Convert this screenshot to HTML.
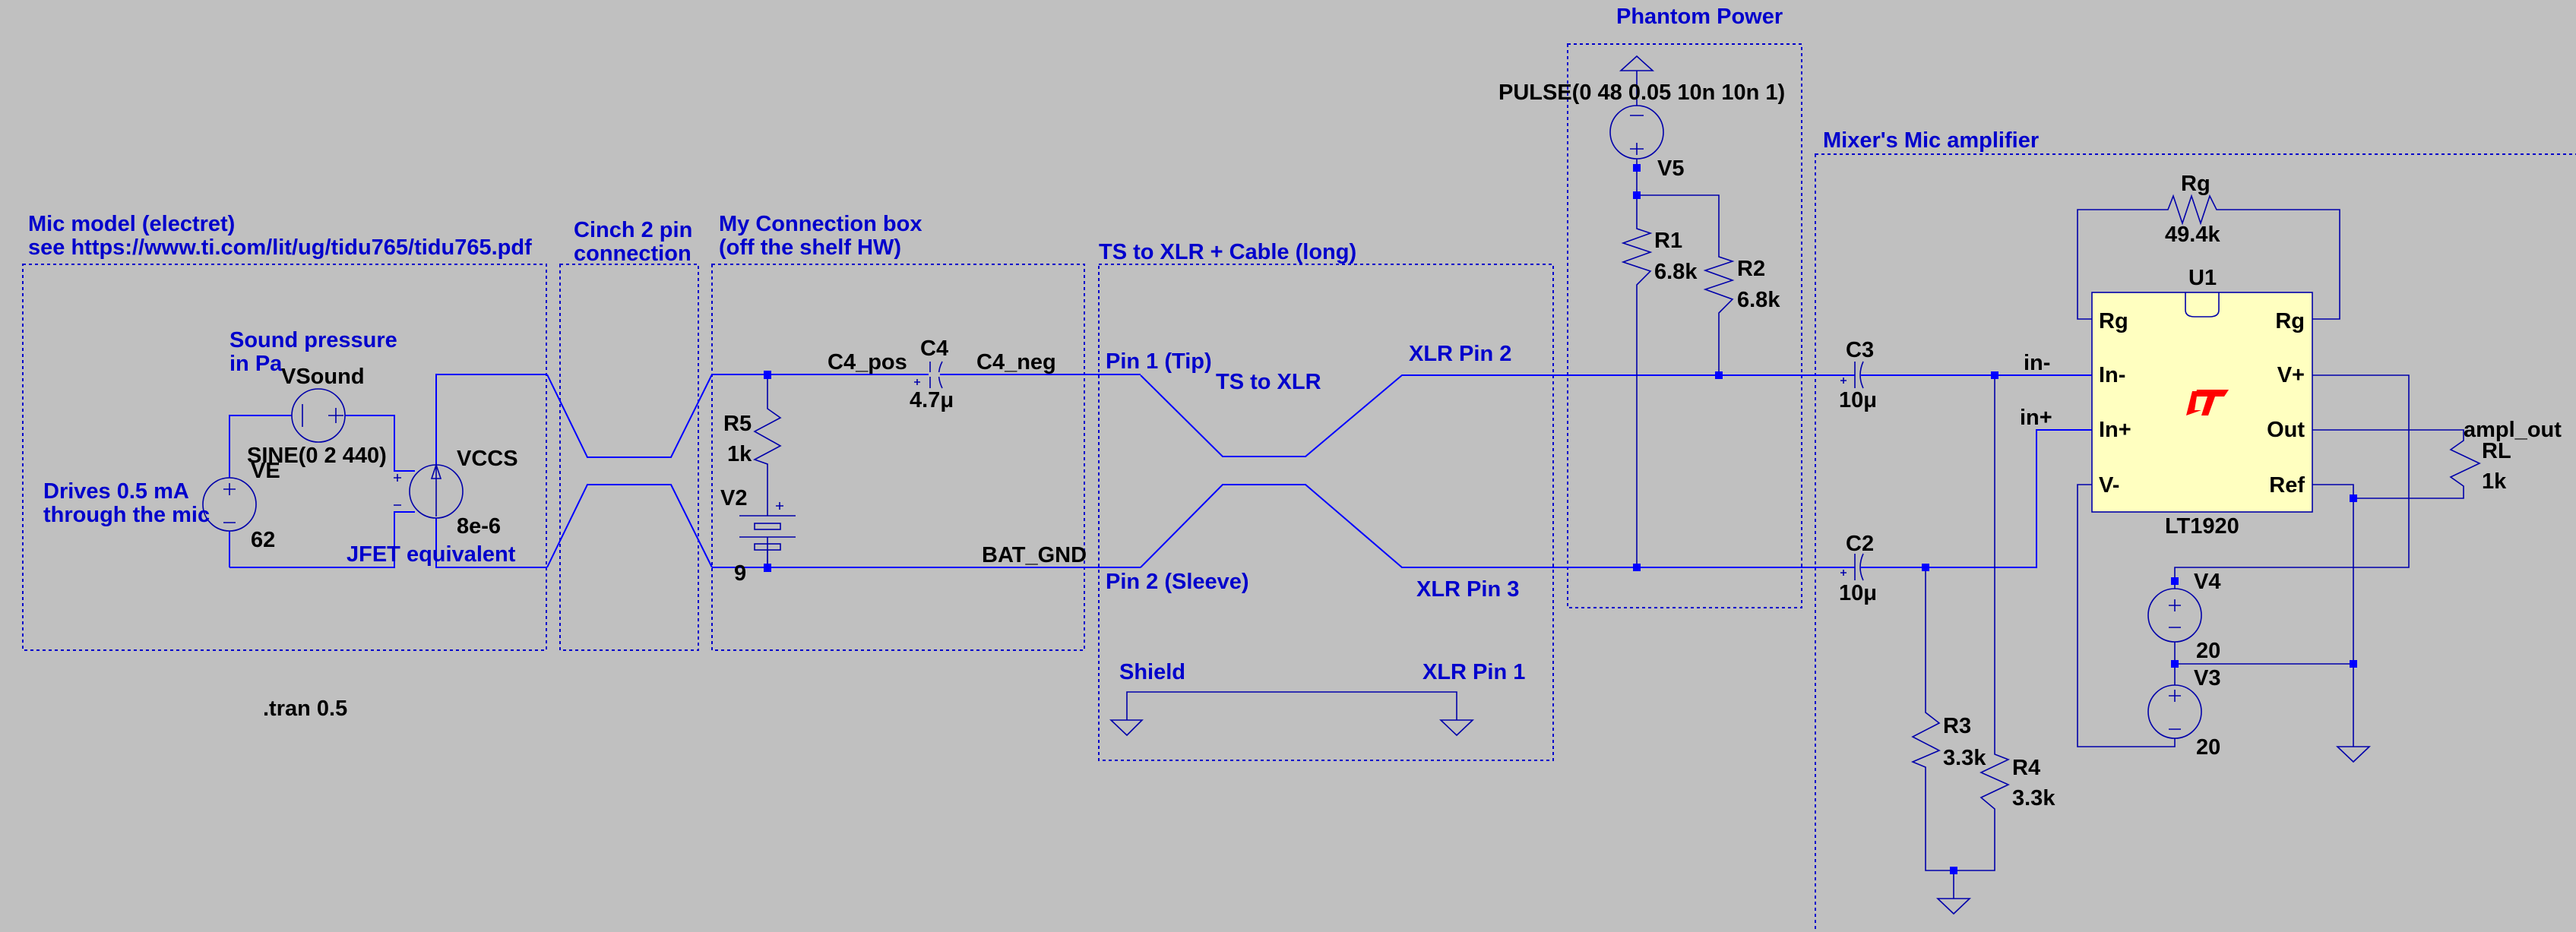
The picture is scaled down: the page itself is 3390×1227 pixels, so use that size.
<!DOCTYPE html>
<html><head><meta charset="utf-8"><style>
html,body{margin:0;padding:0;background:#c0c0c0;}
svg{display:block;}
text{font-family:"Liberation Sans",sans-serif;font-weight:bold;font-size:29px;}
.b{fill:#0000cc;}
.k{fill:#000;}
.w{stroke:#0000ff;stroke-width:2;fill:none;}
.t{stroke:#0000aa;stroke-width:1.6;fill:none;}
.d{stroke:#0000cc;stroke-width:2;fill:none;stroke-dasharray:4 4;}
.j{fill:#0000ff;}
.src{stroke:#0000aa;stroke-width:1.6;fill:#c0c0c0;}
</style></head><body>
<svg width="3390" height="1227" viewBox="0 0 3390 1227" xmlns="http://www.w3.org/2000/svg">
<rect width="3390" height="1227" fill="#c0c0c0"/>
<rect class="d" x="30" y="348" width="689" height="508"/>
<rect class="d" x="737" y="348" width="182" height="508"/>
<rect class="d" x="937" y="348" width="490" height="508"/>
<rect class="d" x="1446" y="348" width="598" height="653"/>
<rect class="d" x="2063" y="58" width="308" height="742"/>
<rect class="d" x="2389" y="203" width="1010" height="1040"/>
<text class="b" x="37" y="304">Mic model (electret)</text>
<text class="b" x="37" y="335">see https://www.ti.com/lit/ug/tidu765/tidu765.pdf</text>
<text class="b" x="755" y="312">Cinch 2 pin</text>
<text class="b" x="755" y="343">connection</text>
<text class="b" x="946" y="304">My Connection box</text>
<text class="b" x="946" y="335">(off the shelf HW)</text>
<text class="b" x="1446" y="341">TS to XLR + Cable (long)</text>
<text class="b" x="2127" y="31">Phantom Power</text>
<text class="b" x="2399" y="194">Mixer's Mic amplifier</text>
<text class="k" x="346" y="942">.tran 0.5</text>

<path class="w" d="M302 747 V547 H519 V620 H546 M546 674 H519 V747 H302"/>
<path class="w" d="M574 612 V493 H720 M574 682 V747 H720"/>
<circle class="src" cx="419" cy="547" r="35"/>
<path class="t" d="M398 532 V562 M432 547 H452 M442 537 V557"/>
<circle class="src" cx="302" cy="664" r="35"/>
<path class="t" d="M294 644 H310 M302 636 V652 M294 688 H310"/>
<circle class="src" cx="574" cy="647" r="35"/>
<path class="t" d="M574 680 V614 M568 630 L574 612 L580 630 Z M518 629 H528 M523 624 V634 M518 665 H528"/>
<text class="b" x="302" y="457">Sound pressure</text>
<text class="b" x="302" y="488">in Pa</text>
<text class="k" x="370" y="505">VSound</text>
<text class="k" x="325" y="609">SINE(0 2 440)</text>
<text class="k" x="330" y="629">VE</text>
<text class="k" x="330" y="720">62</text>
<text class="b" x="57" y="656">Drives 0.5 mA</text>
<text class="b" x="57" y="687">through the mic</text>
<text class="k" x="601" y="613">VCCS</text>
<text class="k" x="601" y="702">8e-6</text>
<text class="b" x="456" y="739">JFET equivalent</text>

<path class="w" d="M720 493 L773 602 H883 L937 493 M720 747 L773 638 H883 L937 747"/>

<path class="w" d="M937 493 H1222 M1237 493 H1501 M937 747 H1501"/>
<path class="t" d="M1010 493 V538 L1027 550 L993 568 L1027 587 L993 605 L1010 611 V679 M973 679 H1047 M973 707 H1047 M1010 707 V747"/>
<rect x="993" y="689" width="34" height="8" fill="none" stroke="#0000aa" stroke-width="1.6"/>
<rect x="993" y="716" width="34" height="8" fill="none" stroke="#0000aa" stroke-width="1.6"/>
<path class="t" d="M1010 724 V747 M1021 666 H1031 M1026 661 V671"/>
<rect class="j" x="1005" y="488" width="10" height="11"/>
<rect class="j" x="1005" y="742" width="10" height="11"/>
<path class="t" d="M1224 476 V511 M1240 476 Q1231 493 1240 511 M1203 503 H1211 M1207 499 V507"/>
<rect x="1222" y="490" width="15" height="6" fill="#c0c0c0"/>
<text class="k" x="952" y="567">R5</text>
<text class="k" x="957" y="607">1k</text>
<text class="k" x="948" y="665">V2</text>
<text class="k" x="966" y="764">9</text>
<text class="k" x="1089" y="486">C4_pos</text>
<text class="k" x="1211" y="468">C4</text>
<text class="k" x="1285" y="486">C4_neg</text>
<text class="k" x="1197" y="536">4.7μ</text>
<text class="k" x="1292" y="740">BAT_GND</text>

<path class="w" d="M1501 494 L1609 601 H1718 L1845 494 H2441 M1501 747 L1609 638 H1718 L1845 747 H2441"/>
<text class="b" x="1455" y="485">Pin 1 (Tip)</text>
<text class="b" x="1600" y="512">TS to XLR</text>
<text class="b" x="1854" y="475">XLR Pin 2</text>
<text class="b" x="1455" y="775">Pin 2 (Sleeve)</text>
<text class="b" x="1864" y="785">XLR Pin 3</text>
<text class="b" x="1473" y="894">Shield</text>
<text class="b" x="1872" y="894">XLR Pin 1</text>
<path class="t" d="M1483 948 V911 H1917 V948 M1462 948 H1503 L1483 968 Z M1896 948 H1938 L1917 968 Z"/>

<path class="t" d="M2133 93 L2154 74 L2175 93 Z M2154 93 V139 M2154 209 V257 L2154 301 L2172 307 L2136 320 L2172 332 L2136 345 L2172 357 L2154 375 V747 M2154 257 H2262 V338 L2280 344 L2244 356 L2280 369 L2244 381 L2280 394 L2262 412 V494"/>
<circle class="src" cx="2154" cy="174" r="35"/>
<path class="t" d="M2145 152 H2163 M2145 196 H2163 M2154 188 V204"/>
<rect class="j" x="2149" y="216" width="10" height="10"/>
<rect class="j" x="2149" y="252" width="10" height="10"/>
<rect class="j" x="2257" y="489" width="10" height="10"/>
<rect class="j" x="2149" y="742" width="10" height="10"/>
<text class="k" x="1972" y="131">PULSE(0 48 0.05 10n 10n 1)</text>
<text class="k" x="2181" y="231">V5</text>
<text class="k" x="2177" y="326">R1</text>
<text class="k" x="2177" y="367">6.8k</text>
<text class="k" x="2286" y="363">R2</text>
<text class="k" x="2286" y="404">6.8k</text>

<path class="t" d="M2441 476 V511 M2452 476 Q2444 494 2452 511 M2422 501 H2430 M2426 497 V505"/>
<path class="t" d="M2441 729 V764 M2452 729 Q2444 747 2452 764 M2422 754 H2430 M2426 750 V758"/>
<path class="w" d="M2449 494 H2753 M2449 747 H2680 V566 H2753"/>
<path class="t" d="M2625 494 V993 L2643 1000 L2607 1017 L2643 1033 L2607 1050 L2625 1065 V1146 H2534 V1010 L2517 1003 L2552 988 L2517 970 L2552 952 L2534 938 V747 M2571 1146 V1183 M2550 1183 H2592 L2571 1203 Z"/>
<rect class="j" x="2620" y="489" width="10" height="10"/>
<rect class="j" x="2529" y="742" width="10" height="10"/>
<rect class="j" x="2566" y="1141" width="10" height="10"/>
<text class="k" x="2429" y="470">C3</text>
<text class="k" x="2420" y="536">10μ</text>
<text class="k" x="2429" y="725">C2</text>
<text class="k" x="2420" y="790">10μ</text>
<text class="k" x="2663" y="487">in-</text>
<text class="k" x="2658" y="559">in+</text>
<text class="k" x="2557" y="965">R3</text>
<text class="k" x="2557" y="1007">3.3k</text>
<text class="k" x="2648" y="1020">R4</text>
<text class="k" x="2648" y="1060">3.3k</text>
<path class="t" d="M2753 420 H2734 V276 H2853 L2860 258 L2872 294 L2884 258 L2896 294 L2908 258 L2917 276 H3079 V420 H3043"/>
<text class="k" x="2870" y="251">Rg</text>
<text class="k" x="2849" y="318">49.4k</text>
<rect x="2753" y="385" width="290" height="289" fill="#ffffc0" stroke="#0000aa" stroke-width="1.6"/>
<path class="t" d="M2876 385 V408 Q2876 417 2888 417 H2908 Q2920 417 2920 408 V385"/>
<text class="k" x="2880" y="375">U1</text>
<text class="k" x="2849" y="702">LT1920</text>
<text class="k" x="2762" y="432">Rg</text>
<text class="k" x="2762" y="503">In-</text>
<text class="k" x="2762" y="575">In+</text>
<text class="k" x="2762" y="648">V-</text>
<text class="k" x="3033" y="432" text-anchor="end">Rg</text>
<text class="k" x="3033" y="503" text-anchor="end">V+</text>
<text class="k" x="3033" y="575" text-anchor="end">Out</text>
<text class="k" x="3033" y="648" text-anchor="end">Ref</text>
<path d="M2877 547 L2885 515 L2892 515 L2888 540 L2897 540 Z M2891 513 L2933 513 L2927 522 L2915 522 L2906 547 L2897 547 L2905 522 L2889 522 Z" fill="#ff0000"/>
<path class="t" d="M3043 494 H3170 V747 H2862 V775 M2862 845 V902 M2862 972 V983 H2734 V638 H2753 M2862 874 H3097 M3043 638 H3097 V983 M3097 656 H3242 V640 L3225 628 L3263 610 L3225 592 L3242 580 V566 H3043 M3076 983 H3118 L3097 1003 Z"/>
<circle class="src" cx="2862" cy="810" r="35"/>
<path class="t" d="M2854 797 H2870 M2862 789 V805 M2854 826 H2870"/>
<circle class="src" cx="2862" cy="937" r="35"/>
<path class="t" d="M2854 916 H2870 M2862 908 V924 M2854 960 H2870"/>
<rect class="j" x="2857" y="760" width="10" height="10"/>
<rect class="j" x="2857" y="869" width="10" height="10"/>
<rect class="j" x="3092" y="869" width="10" height="10"/>
<rect class="j" x="3092" y="651" width="10" height="10"/>
<text class="k" x="2887" y="775">V4</text>
<text class="k" x="2890" y="866">20</text>
<text class="k" x="2887" y="902">V3</text>
<text class="k" x="2890" y="993">20</text>
<text class="k" x="3242" y="575">ampl_out</text>
<text class="k" x="3266" y="603">RL</text>
<text class="k" x="3266" y="643">1k</text>
</svg>
</body></html>
